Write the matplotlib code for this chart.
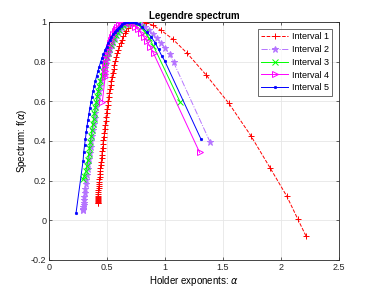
import matplotlib
matplotlib.use("Agg")
import matplotlib.pyplot as plt

# Interval 1 (red)
a1 = [2.216, 2.144, 2.052, 1.908, 1.741, 1.552, 1.353, 1.190, 1.066, 0.966, 0.897, 0.839,
      0.800, 0.770, 0.745, 0.722, 0.702, 0.684, 0.668, 0.654, 0.641, 0.629, 0.618, 0.608,
      0.598, 0.589, 0.580, 0.572, 0.564, 0.557, 0.550, 0.543, 0.537, 0.531, 0.525, 0.520,
      0.515, 0.510, 0.505, 0.501, 0.496, 0.492, 0.488, 0.484, 0.480, 0.476, 0.472, 0.469,
      0.465, 0.462, 0.459, 0.456, 0.453, 0.450, 0.447, 0.444, 0.442, 0.439, 0.437, 0.435,
      0.433, 0.431, 0.429, 0.428, 0.426, 0.425, 0.424, 0.423, 0.422, 0.421, 0.420, 0.420,
      0.419, 0.419, 0.419, 0.419]
f1 = [-0.079, 0.008, 0.120, 0.263, 0.426, 0.589, 0.734, 0.843, 0.914, 0.958, 0.983, 0.995,
      0.998, 1.000, 0.998, 0.992, 0.982, 0.970, 0.956, 0.942, 0.927, 0.911, 0.894, 0.877,
      0.859, 0.841, 0.822, 0.803, 0.784, 0.764, 0.744, 0.724, 0.704, 0.684, 0.663, 0.643,
      0.623, 0.602, 0.582, 0.562, 0.541, 0.521, 0.501, 0.481, 0.461, 0.441, 0.422, 0.403,
      0.384, 0.366, 0.348, 0.330, 0.313, 0.296, 0.280, 0.264, 0.249, 0.234, 0.220, 0.207,
      0.194, 0.182, 0.171, 0.160, 0.150, 0.141, 0.132, 0.124, 0.117, 0.111, 0.105, 0.100,
      0.096, 0.092, 0.089, 0.087]

# Interval 2 (violet)
a2 = [1.391, 1.074, 1.040, 1.003, 0.966, 0.930, 0.895, 0.862, 0.830, 0.800, 0.772, 0.746,
      0.722, 0.700, 0.680, 0.661, 0.643, 0.626, 0.610, 0.595, 0.580, 0.566, 0.553, 0.540,
      0.528, 0.516, 0.504, 0.493, 0.482, 0.472, 0.462, 0.452, 0.443, 0.434, 0.425, 0.417,
      0.409, 0.401, 0.393, 0.386, 0.379, 0.372, 0.365, 0.358, 0.352, 0.346, 0.340, 0.334,
      0.328, 0.323, 0.318, 0.313, 0.309, 0.305, 0.302, 0.300, 0.298, 0.297, 0.296, 0.296,
      0.296]
f2 = [0.392, 0.797, 0.836, 0.867, 0.893, 0.917, 0.940, 0.958, 0.973, 0.985, 0.993, 0.998,
      1.000, 0.999, 0.996, 0.990, 0.982, 0.972, 0.961, 0.948, 0.934, 0.918, 0.901, 0.883,
      0.864, 0.844, 0.823, 0.801, 0.778, 0.754, 0.730, 0.705, 0.679, 0.653, 0.626, 0.598,
      0.570, 0.542, 0.513, 0.484, 0.455, 0.426, 0.397, 0.368, 0.339, 0.311, 0.283, 0.256,
      0.230, 0.205, 0.181, 0.159, 0.138, 0.119, 0.102, 0.088, 0.076, 0.066, 0.059, 0.054,
      0.052]

# Interval 3 (green)
a3 = [1.132, 0.900, 0.860, 0.825, 0.795, 0.768, 0.744, 0.722, 0.700, 0.680, 0.660, 0.641,
      0.623, 0.606, 0.590, 0.575, 0.560, 0.546, 0.533, 0.520, 0.508, 0.496, 0.485, 0.474,
      0.463, 0.453, 0.443, 0.434, 0.425, 0.416, 0.408, 0.400, 0.392, 0.384, 0.377, 0.370,
      0.363, 0.356, 0.349, 0.342, 0.335, 0.327, 0.318, 0.305, 0.293]
f3 = [0.595, 0.880, 0.920, 0.951, 0.973, 0.988, 0.997, 1.000, 0.999, 0.996, 0.990, 0.982,
      0.972, 0.960, 0.947, 0.932, 0.916, 0.899, 0.881, 0.862, 0.842, 0.821, 0.799, 0.776,
      0.752, 0.728, 0.703, 0.677, 0.651, 0.624, 0.597, 0.569, 0.541, 0.512, 0.483, 0.454,
      0.424, 0.394, 0.364, 0.334, 0.304, 0.274, 0.247, 0.225, 0.206]

# Interval 4 (magenta)
a4 = [1.299, 0.902, 0.873, 0.845, 0.818, 0.792, 0.768, 0.745, 0.723, 0.703, 0.684, 0.665,
      0.648, 0.632, 0.617, 0.603, 0.590, 0.577, 0.565, 0.554, 0.543, 0.533, 0.523, 0.514,
      0.506, 0.499, 0.493, 0.488, 0.485, 0.483, 0.483, 0.484, 0.460]
f4 = [0.342, 0.841, 0.875, 0.902, 0.925, 0.945, 0.962, 0.976, 0.987, 0.995, 0.999, 1.000,
      0.999, 0.996, 0.991, 0.984, 0.975, 0.965, 0.953, 0.940, 0.925, 0.909, 0.892, 0.874,
      0.855, 0.835, 0.814, 0.793, 0.772, 0.752, 0.735, 0.722, 0.596]

# Interval 5 (blue)
a5 = [1.310, 0.997, 0.974, 0.945, 0.916, 0.880, 0.845, 0.805, 0.775, 0.752, 0.735, 0.720,
      0.700, 0.685, 0.668, 0.651, 0.634, 0.617, 0.600, 0.584, 0.568, 0.553, 0.538, 0.524,
      0.510, 0.496, 0.483, 0.470, 0.457, 0.445, 0.433, 0.422, 0.411, 0.400, 0.390, 0.380,
      0.370, 0.361, 0.352, 0.344, 0.336, 0.328, 0.321, 0.314, 0.307, 0.300, 0.294, 0.233]
f5 = [0.410, 0.805, 0.827, 0.861, 0.895, 0.925, 0.948, 0.973, 0.988, 0.996, 0.999, 1.000,
      1.000, 0.999, 0.997, 0.993, 0.987, 0.980, 0.971, 0.961, 0.950, 0.937, 0.923, 0.908,
      0.892, 0.875, 0.857, 0.838, 0.818, 0.797, 0.775, 0.752, 0.728, 0.703, 0.677, 0.650,
      0.622, 0.594, 0.565, 0.535, 0.505, 0.474, 0.443, 0.411, 0.378, 0.345, 0.300, 0.035]

labels = ["Interval 1", "Interval 2", "Interval 3", "Interval 4", "Interval 5"]
xticks = [0, 0.5, 1, 1.5, 2, 2.5]
yticks = [-0.2, 0, 0.2, 0.4, 0.6, 0.8, 1]

plt.rcParams['font.family'] = ['Liberation Sans', 'DejaVu Sans']

fig = plt.figure(figsize=(3.74, 2.92), dpi=100)
ax = fig.add_axes([0.131, 0.110, 0.775, 0.815])

violet = '#b574ff'
ax.plot(a1, f1, color='#ff0000', ls='--', marker='+', ms=4.5, mew=0.7, lw=0.7, label=labels[0], zorder=3)
ax.plot(a2, f2, color=violet, ls='-.', marker='*', ms=5, mew=0.7, lw=0.7, label=labels[1], zorder=3)
ax.plot(a3, f3, color='#00ff00', ls='-', marker='x', ms=4, mew=0.7, lw=0.7, label=labels[2], zorder=3)
ax.plot(a4, f4, color='#ff00ff', ls='-', marker='>', ms=5, mew=0.7, mfc='none', lw=0.7, label=labels[3], zorder=3)
ax.plot(a5, f5, color='#0000ff', ls='-', marker='.', ms=3.5, mew=0.5, lw=0.7, label=labels[4], zorder=3)

ax.set_xlim(0, 2.5)
ax.set_ylim(-0.2, 1)
ax.set_xticks(xticks)
ax.set_xticklabels(['0', '0.5', '1', '1.5', '2', '2.5'])
ax.set_yticks(yticks)
ax.set_yticklabels(['-0.2', '0', '0.2', '0.4', '0.6', '0.8', '1'])
ax.grid(True, color='#e6e6e6', lw=0.6)
ax.set_axisbelow(True)
ax.tick_params(direction='in', length=2.5, width=0.5, labelsize=6.5, top=True, right=True, pad=2, colors='#262626')
for s in ax.spines.values():
    s.set_linewidth(0.6)
    s.set_color('#262626')

ax.set_title('Legendre spectrum', fontsize=7, fontweight='bold', pad=2)
ax.set_xlabel(r'Holder exponents: $\alpha$', fontsize=7, labelpad=2)
ax.set_ylabel(r'Spectrum: f($\alpha$)', fontsize=7, labelpad=1)

leg = ax.legend(loc='upper right', fontsize=6.5, frameon=True, fancybox=False,
                edgecolor='#262626', handlelength=3.0, handletextpad=0.4,
                borderpad=0.35, labelspacing=0.42,
                bbox_to_anchor=(0.976, 0.97), borderaxespad=0)
leg.get_frame().set_linewidth(0.6)

fig.savefig('out.png', dpi=100)
